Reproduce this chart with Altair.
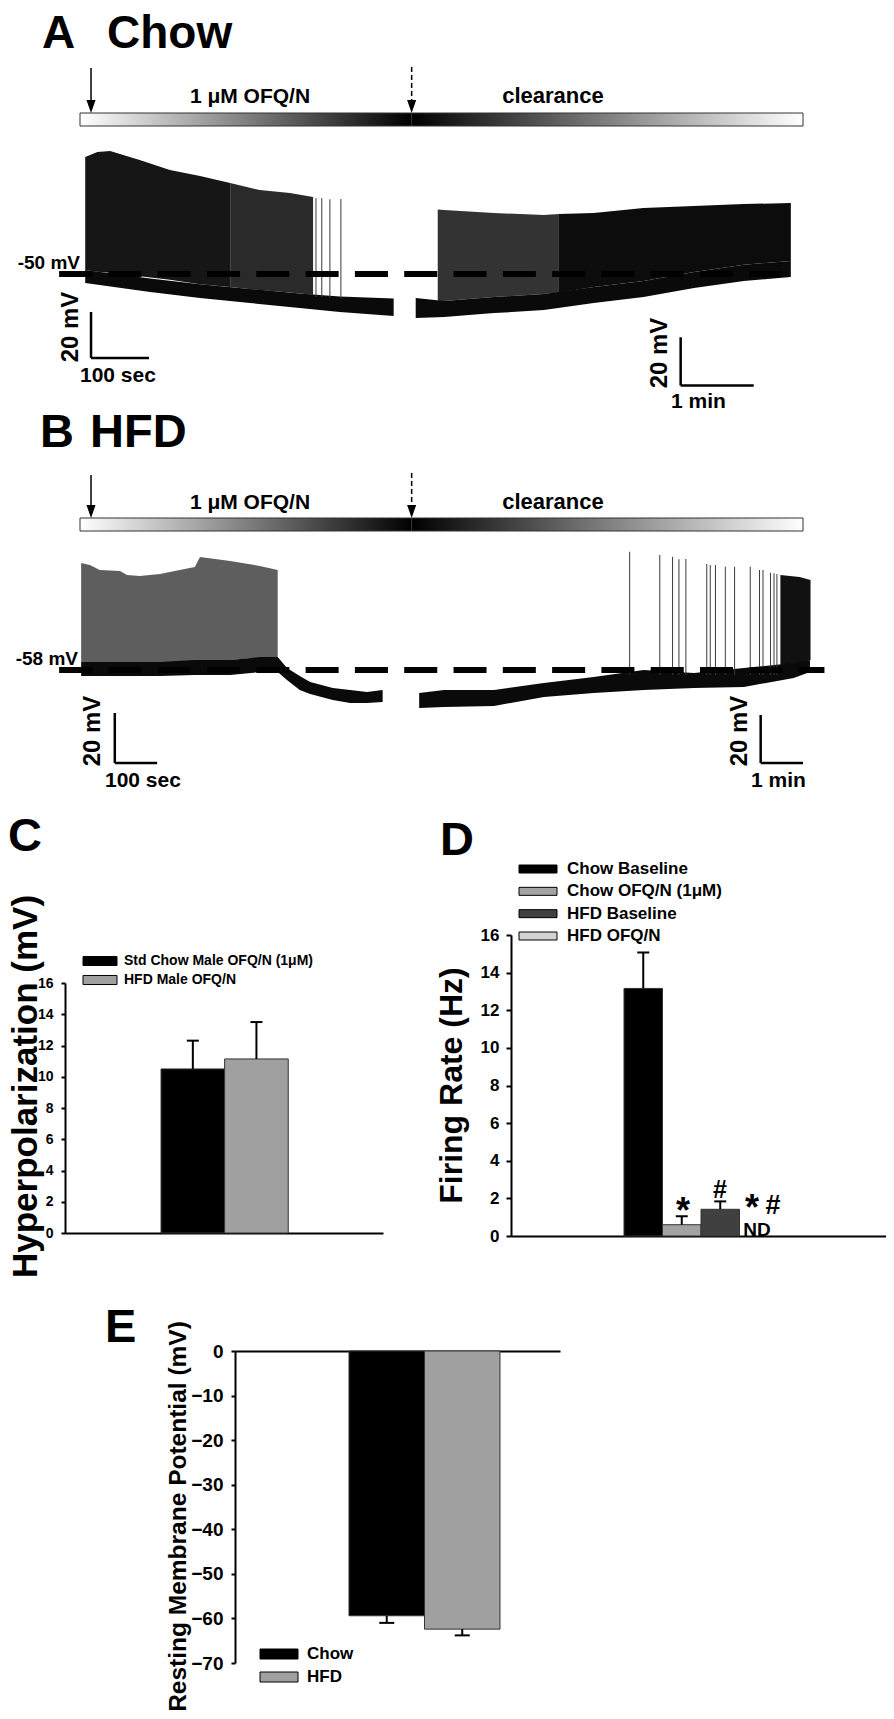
import altair as alt
import pandas as pd

FONT = "Liberation Sans"

# ---------------- timeline (sweep units shared by the two traces) ----------------
perf_start, perf_switch, perf_end = 0, 572, 1247
arrow_on, arrow_off = 19, 572
phase_labels = ["1 μM OFQ/N", "clearance"]

# ---------------- Panel A : Chow trace (x = sweep units, y = mV) ----------------
A_spk_piece = ["a1"] * 7 + ["a1b"] * 4 + ["a2"] * 5 + ["a3"] * 6
A_spk_u = [9, 30, 52, 103, 155, 207, 259,
           259, 310, 362, 402,
           617, 628, 714, 800, 826,
           826, 886, 972, 1059, 1145, 1226]
A_spk_top = [0.9, 3.0, 3.5, -0.4, -4.8, -7.4, -10.4,
             -10.4, -13.5, -14.8, -16.5,
             -22.0, -22.2, -23.5, -24.3, -23.9,
             -23.9, -23.5, -21.3, -20.4, -19.6, -19.1]
A_spk_base = [-48.3, -49.0, -49.5, -51.0, -52.5, -54.5, -55.7,
              -55.7, -57.0, -58.0, -59.0,
              -62.0, -61.7, -60.0, -58.7, -58.0,
              -58.0, -55.6, -53.0, -49.1, -46.0, -44.3]
A_band_piece = ["s1"] * 7 + ["s2"] * 9
A_band_u = [9, 121, 207, 293, 379, 448, 541,
            579, 628, 714, 800, 886, 972, 1059, 1145, 1226]
A_band_top = [-48.3, -52.0, -54.5, -56.5, -58.5, -59.8, -60.6,
              -60.4, -61.7, -60.0, -58.7, -55.6, -53.0, -49.1, -46.0, -44.3]
A_band_bot = [-53.9, -57.8, -60.4, -62.6, -64.8, -66.5, -68.3,
              -69.1, -68.7, -67.0, -65.7, -62.6, -60.0, -56.1, -53.0, -51.3]
A_sparse_u = [407, 417, 431, 450]
A_sparse_top = [-17.0, -17.0, -17.5, -17.4]
A_sparse_base = [-60.0, -60.0, -60.3, -60.6]
A_hold_mv = -50
A_hold_span = [-36, 1209]
A_sbar_u1 = [19, 19, 1036, 1036]
A_sbar_u2 = [19, 119, 1036, 1162]
A_sbar_v1 = [-66.5, -86.5, -77.5, -98.5]
A_sbar_v2 = [-86.5, -86.5, -98.5, -98.5]

# ---------------- Panel B : HFD trace ----------------
B_spk_piece = ["b1"] * 13 + ["b2"] * 3
B_spk_u = [2, 17, 34, 69, 81, 103, 138, 172, 198, 207, 259, 310, 341,
           1208, 1241, 1260]
B_spk_top = [-15.2, -16.0, -18.0, -18.4, -20.0, -20.4, -19.6, -18.0, -16.8, -12.8, -14.4, -16.4, -18.0,
             -20.0, -20.8, -22.0]
B_spk_base = [-55.0, -55.0, -55.0, -55.0, -55.0, -55.0, -55.0, -55.0, -55.0, -54.0, -54.0, -53.0, -53.0,
              -56.0, -55.2, -54.0]
B_band_piece = ["t1"] * 14 + ["t2"] * 10
B_band_u = [2, 69, 138, 198, 259, 310, 341, 357, 379, 397, 436, 466, 495, 522,
            585, 628, 714, 800, 886, 972, 1059, 1145, 1231, 1259]
B_band_top = [-54.8, -54.8, -54.8, -54.0, -54.0, -52.8, -52.8, -57.2, -60.4, -62.8, -65.2, -66.0, -66.8, -66.0,
              -67.2, -66.0, -66.0, -63.2, -60.8, -58.0, -59.2, -57.2, -55.2, -54.0]
B_band_bot = [-60.4, -60.4, -60.4, -60.0, -60.0, -58.8, -58.8, -62.0, -66.0, -67.6, -70.0, -71.2, -71.2, -70.8,
              -73.2, -72.8, -72.4, -68.8, -67.2, -66.0, -65.2, -64.8, -61.2, -58.8]
B_sparse_u = [948, 1000, 1022, 1033, 1045, 1081, 1087, 1096, 1113, 1129, 1156, 1172, 1178, 1191, 1197, 1202]
B_sparse_top = [-10.7, -12.0, -12.7, -13.7, -13.6, -15.6, -16.0, -16.0, -16.7, -16.7, -16.7, -18.0, -18.0,
                -19.1, -19.3, -19.6]
B_sparse_base = [-60.0] * 16
B_hold_mv = -58
B_hold_span = [-36, 1284]
B_sbar_u1 = [60, 60, 1174, 1174]
B_sbar_u2 = [60, 133, 1174, 1247]
B_sbar_v1 = [-75.2, -95.2, -76.0, -95.2]
B_sbar_v2 = [-95.2, -95.2, -95.2, -95.2]

# ---------------- Panel C ----------------
C_groups = ["Std Chow Male OFQ/N (1μM)", "HFD Male OFQ/N"]
C_mean = [10.5, 11.14]
C_sem = [1.81, 2.36]
C_colors = ["#000000", "#a0a0a0"]
C_ticks = [0, 2, 4, 6, 8, 10, 12, 14, 16]

# ---------------- Panel D ----------------
D_groups = ["Chow Baseline", "Chow OFQ/N (1μM)", "HFD Baseline", "HFD OFQ/N"]
D_mean = [13.16, 0.60, 1.42, 0.0]
D_sem = [1.91, 0.45, 0.42, 0.0]
D_colors = ["#000000", "#a3a3a3", "#404040", "#d2d2d2"]
D_ticks = [0, 2, 4, 6, 8, 10, 12, 14, 16]

# ---------------- Panel E ----------------
E_groups = ["Chow", "HFD"]
E_mean = [-59.4, -62.4]
E_sem = [1.6, 1.4]
E_colors = ["#000000", "#a0a0a0"]
E_ticks = [0, -10, -20, -30, -40, -50, -60, -70]


def T(s, x, y, size, align="left", baseline="alphabetic", angle=0):
    return alt.Chart(pd.DataFrame({"t": [s]})).mark_text(
        align=align, baseline=baseline, angle=angle, font=FONT,
        fontSize=size, fontWeight="bold", color="black"
    ).encode(text="t:N", x=alt.value(x), y=alt.value(y))


HEAD = "M-0.7,-1L0.7,-1L0,1Z"


def trace_panel(xs, ys, bar_top, bar_h, shaft_tops, spk, spk_pal, band, sparse, dash, sbars):
    X = lambda f: alt.X(f"{f}:Q", scale=xs, axis=None)
    Y = lambda f: alt.Y(f"{f}:Q", scale=ys, axis=None)
    tl = pd.DataFrame({"start": [perf_start, perf_switch], "end": [perf_switch, perf_end]})
    g_up = alt.LinearGradient(gradient="linear", x1=0, x2=1, y1=0, y2=0,
                              stops=[alt.GradientStop(color="white", offset=0),
                                     alt.GradientStop(color="black", offset=1)])
    g_dn = alt.LinearGradient(gradient="linear", x1=0, x2=1, y1=0, y2=0,
                              stops=[alt.GradientStop(color="black", offset=0),
                                     alt.GradientStop(color="white", offset=1)])
    left = alt.Chart(tl.iloc[[0]]).mark_rect(fill=g_up, stroke="#333", strokeWidth=1).encode(
        x=X("start"), x2="end:Q", y=alt.value(bar_top), y2=alt.value(bar_top + bar_h))
    right = alt.Chart(tl.iloc[[1]]).mark_rect(fill=g_dn, stroke="#333", strokeWidth=1).encode(
        x=X("start"), x2="end:Q", y=alt.value(bar_top), y2=alt.value(bar_top + bar_h))
    shaft1 = alt.Chart(pd.DataFrame({"u": [arrow_on]})).mark_rule(strokeWidth=1.5, color="black").encode(
        x=X("u"), y=alt.value(shaft_tops[0]), y2=alt.value(bar_top - 8))
    shaft2 = alt.Chart(pd.DataFrame({"u": [arrow_off]})).mark_rule(
        strokeWidth=1.5, color="black", strokeDash=[5, 3]).encode(
        x=X("u"), y=alt.value(shaft_tops[1]), y2=alt.value(bar_top - 8))
    heads = alt.Chart(pd.DataFrame({"u": [arrow_on, arrow_off]})).mark_point(
        shape=HEAD, size=169, filled=True, color="black", opacity=1, strokeWidth=0).encode(
        x=X("u"), y=alt.value(bar_top - 6.5))
    spk_area = alt.Chart(spk).mark_area(opacity=1).encode(
        x=X("u"), y=Y("top"), y2="base:Q",
        color=alt.Color("piece:N", scale=alt.Scale(domain=list(spk_pal.keys()),
                                                  range=list(spk_pal.values())), legend=None))
    band_area = alt.Chart(band).mark_area(color="#0a0a0a", opacity=1).encode(
        x=X("u"), y=Y("top"), y2="bot:Q", detail="piece:N")
    spikes = alt.Chart(sparse).mark_rule(strokeWidth=1, color="#3a3a3a").encode(
        x=X("u"), y=Y("top"), y2="base:Q")
    hold = alt.Chart(dash).mark_rule(strokeWidth=6, color="black", strokeDash=[33, 16.3]).encode(
        x=X("start"), x2="end:Q", y=Y("mv"))
    bars = alt.Chart(sbars).mark_rule(strokeWidth=2.5, color="black").encode(
        x=X("u1"), x2="u2:Q", y=Y("v1"), y2="v2:Q")
    return alt.layer(left, right, shaft1, shaft2, heads, spk_area, band_area, spikes, hold, bars)


def bar_panel(groups, means, sems, colors, xs, ys, xaxis, yaxis, cap_w):
    df = pd.DataFrame({"grp": groups, "mean": means, "sem": sems})
    df["idx"] = list(range(len(groups)))
    Xq = lambda f: alt.X(f"{f}:Q", scale=xs, axis=xaxis)
    Y = lambda f: alt.Y(f"{f}:Q", scale=ys, axis=yaxis)
    bars = alt.Chart(df).transform_filter("datum.mean != 0").transform_calculate(
        lo="datum.idx - 0.5", hi="datum.idx + 0.5", zero="0"
    ).mark_bar(stroke="#333", strokeWidth=1, opacity=1).encode(
        x=Xq("lo"), x2="hi:Q", y=Y("mean"), y2="zero:Q",
        color=alt.Color("grp:N", scale=alt.Scale(domain=groups, range=colors), legend=None))
    eb = alt.Chart(df).transform_filter("datum.sem > 0").transform_calculate(
        tip="datum.mean < 0 ? datum.mean - datum.sem : datum.mean + datum.sem")
    rule = eb.mark_rule(strokeWidth=2, color="black").encode(x=Xq("idx"), y=Y("mean"), y2="tip:Q")
    cap = eb.mark_tick(orient="horizontal", size=cap_w, thickness=2, color="black", opacity=1).encode(
        x=Xq("idx"), y=Y("tip"))
    return alt.layer(bars, rule, cap)


def legend_block(labels, colors, xc, yrange, w, h, tx, fs):
    df = pd.DataFrame({"lab": labels})
    Y = alt.Y("lab:N", scale=alt.Scale(type="point", domain=labels, range=yrange, padding=0),
              axis=None, sort=labels)
    sw = alt.Chart(df).mark_tick(orient="horizontal", size=w, thickness=h, stroke="black",
                                 strokeWidth=1, opacity=1).encode(
        x=alt.value(xc), y=Y,
        fill=alt.Fill("lab:N", scale=alt.Scale(domain=labels, range=colors), legend=None))
    tt = alt.Chart(df).mark_text(align="left", baseline="middle", font=FONT, fontSize=fs,
                                 fontWeight="bold", color="black").encode(
        x=alt.value(tx), y=Y, text="lab:N")
    return alt.layer(sw, tt)


def yaxis(values, offset, tsize, lpad, lfs, title, tfs, tx, ty):
    return alt.Axis(orient="left", offset=offset, values=values, tickSize=tsize, tickWidth=2,
                    tickColor="black", domainColor="black", domainWidth=2, grid=False,
                    labelFont=FONT, labelFontSize=lfs, labelFontWeight="bold", labelColor="black",
                    labelPadding=lpad, labelFlush=False, labelOverlap=False,
                    title=title, titleFont=FONT, titleFontSize=tfs, titleFontWeight="bold",
                    titleColor="black", titleAngle=270, titleAlign="center",
                    titleBaseline="alphabetic", titleX=tx, titleY=ty)


def xaxis(orient, offset):
    return alt.Axis(orient=orient, offset=offset, labels=False, ticks=False, grid=False,
                    domainColor="black", domainWidth=2, title=None)


# ---------------- build traces ----------------
XS = alt.Scale(domain=[0, 1247], range=[72, 795], nice=False, zero=False)
YA = alt.Scale(domain=[-100, 30], range=[381, 82], nice=False, zero=False)
YB = alt.Scale(domain=[-110, 20], range=[792, 467], nice=False, zero=False)

panelA = trace_panel(
    XS, YA, 105, 13, [60, 59],
    pd.DataFrame({"piece": A_spk_piece, "u": A_spk_u, "top": A_spk_top, "base": A_spk_base}),
    {"a1": "#161616", "a1b": "#2a2a2a", "a2": "#333333", "a3": "#0c0c0c"},
    pd.DataFrame({"piece": A_band_piece, "u": A_band_u, "top": A_band_top, "bot": A_band_bot}),
    pd.DataFrame({"u": A_sparse_u, "top": A_sparse_top, "base": A_sparse_base}),
    pd.DataFrame({"start": [A_hold_span[0]], "end": [A_hold_span[1]], "mv": [A_hold_mv]}),
    pd.DataFrame({"u1": A_sbar_u1, "u2": A_sbar_u2, "v1": A_sbar_v1, "v2": A_sbar_v2}),
)
panelB = trace_panel(
    XS, YB, 510, 13, [467, 465],
    pd.DataFrame({"piece": B_spk_piece, "u": B_spk_u, "top": B_spk_top, "base": B_spk_base}),
    {"b1": "#5e5e5e", "b2": "#111111"},
    pd.DataFrame({"piece": B_band_piece, "u": B_band_u, "top": B_band_top, "bot": B_band_bot}),
    pd.DataFrame({"u": B_sparse_u, "top": B_sparse_top, "base": B_sparse_base}),
    pd.DataFrame({"start": [B_hold_span[0]], "end": [B_hold_span[1]], "mv": [B_hold_mv]}),
    pd.DataFrame({"u1": B_sbar_u1, "u2": B_sbar_u2, "v1": B_sbar_v1, "v2": B_sbar_v2}),
)

# ---------------- bar panels (x in bar-index units) ----------------
panelC = bar_panel(
    C_groups, C_mean, C_sem, C_colors,
    alt.Scale(domain=[-2.01, 2.99], range=[57, 375], nice=False, zero=False),
    alt.Scale(domain=[0, 16], range=[1225, 975], nice=False, zero=False),
    xaxis("bottom", -478),
    yaxis(C_ticks, -57, 4, 8, 14, "Hyperpolarization (mV)", 35, -29, 1078),
    12)
panelD = bar_panel(
    D_groups, D_mean, D_sem, D_colors,
    alt.Scale(domain=[-3.435, 6.305], range=[503, 878], nice=False, zero=False),
    alt.Scale(domain=[0, 16], range=[1228, 927], nice=False, zero=False),
    xaxis("bottom", -475),
    yaxis(D_ticks, -503, 5, 7, 17, "Firing Rate (Hz)", 32, -50, 1077),
    12)
panelE = bar_panel(
    E_groups, E_mean, E_sem, E_colors,
    alt.Scale(domain=[-2.01, 2.295], range=[227, 552], nice=False, zero=False),
    alt.Scale(domain=[-70, 0], range=[1655, 1343], nice=False, zero=False),
    xaxis("top", -1343),
    yaxis(E_ticks, -227, 4, 8, 19, "Resting Membrane Potential (mV)", 24.5, -50, 1508),
    15)

legC = legend_block(C_groups, C_colors, 92, [953, 972], 34, 9, 116, 14)
legD = legend_block(D_groups, D_colors, 530, [861, 928], 38, 8, 559, 17)
legE = legend_block(E_groups, E_colors, 271, [1646, 1669], 38, 10, 299, 17)

texts = [
    T("A", 34, 40, 46), T("Chow", 99, 40, 46),
    T(phase_labels[0], 242, 95, 21, align="center"), T(phase_labels[1], 545, 95, 22, align="center"),
    T("-50 mV", 72, 261, 19, align="right"),
    T("20 mV", 70, 319, 24, align="center", angle=270),
    T("100 sec", 72, 374, 21),
    T("20 mV", 659, 345, 24, align="center", angle=270),
    T("1 min", 663, 400, 21),
    T("B", 32, 439, 47), T("HFD", 82, 439, 47),
    T(phase_labels[0], 242, 501, 21, align="center"), T(phase_labels[1], 545, 501, 22, align="center"),
    T("-58 mV", 70, 657, 19, align="right"),
    T("20 mV", 92, 723, 24, align="center", angle=270),
    T("100 sec", 97, 779, 21),
    T("20 mV", 739, 723, 24, align="center", angle=270),
    T("1 min", 743, 779, 21),
    T("C", 0, 843, 47), T("D", 432, 847, 47), T("E", 97, 1334, 47),
    T("*", 675, 1215, 36, align="center"), T("#", 712, 1190, 25, align="center"),
    T("*", 744, 1212, 36, align="center"), T("#", 765, 1206, 27, align="center"),
    T("ND", 749, 1228, 19, align="center"),
]

chart = alt.layer(
    panelA, panelB, panelC, legC, panelD, legD, panelE, legE, *texts
).resolve_scale(
    x="independent", y="independent", color="independent", fill="independent"
).properties(
    width=878, height=1703, padding=0, autosize=alt.AutoSizeParams(type="none")
).configure_view(stroke=None)

chart.save("out.html", embed_options={"renderer": "svg", "actions": False})
